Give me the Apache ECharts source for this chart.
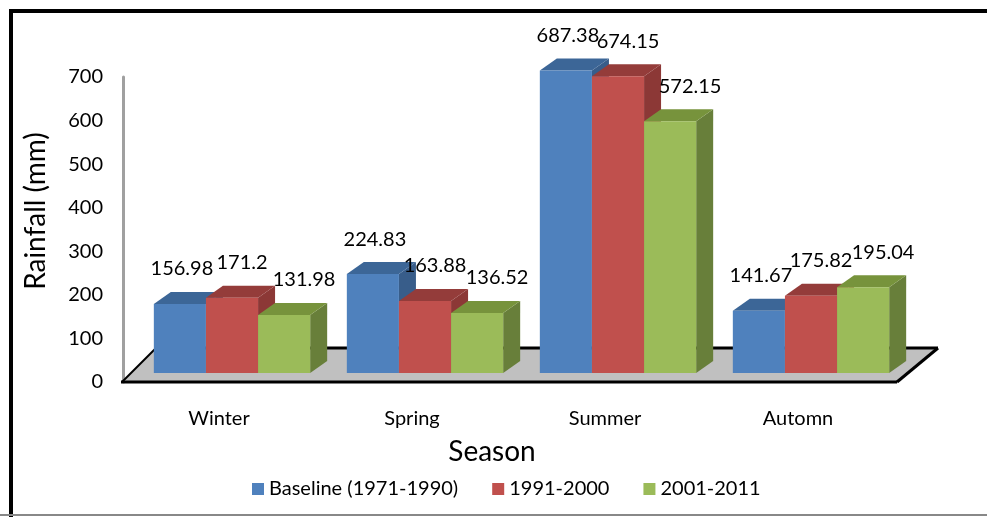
<!doctype html>
<html>
	<head>
		<meta charset="UTF-8">
		<title>Rainfall by season</title>
		<script src="https://cdn.jsdelivr.net/npm/echarts@6/dist/echarts.min.js"></script>
		<style>
			html, body { margin: 0; padding: 0; background: #fff; }
			#chart { width: 987px; height: 517px; }
		</style>
	</head>
	<body>
		<div id="chart"></div>
		<script type="text/javascript">
			// data
			var seasons = ['Winter', 'Spring', 'Summer', 'Automn'];
			var seriesNames = ['Baseline (1971-1990)', '1991-2000', '2001-2011'];
			var baseline = [156.98, 224.83, 687.38, 141.67];
			var p1991 = [171.2, 163.88, 674.15, 175.82];
			var p2001 = [131.98, 136.52, 572.15, 195.04];
			var yTicks = [0, 700, 100]; // min, max, step

			// front / top / side colours (Excel 2007 look)
			var faces = [
				['#4F81BD', '#3C6697', '#385D8A'],
				['#C0504D', '#943C3A', '#8C3836'],
				['#9BBB59', '#77933C', '#687F3A']
			];
			var DX = 17, DY = -12; // depth of a bar
			var labelShift = [2, 10, 20];

			function make3dBar(s) {
				return function(params, api) {
					var ci = api.value(0);
					var v = api.value(1);
					var base = api.coord([ci, 0]);
					var top = api.coord([ci, v]);
					var catW = api.size([1, 0])[0];
					var bw = catW * 0.27;
					var x0 = base[0] + (s - 1) * bw - bw / 2;
					var x1 = x0 + bw;
					var yt = top[1], yb = base[1];
					var c = faces[s];
					return {
						type: 'group',
						children: [{
							type: 'polygon',
							shape: { points: [[x1, yt], [x1 + DX, yt + DY], [x1 + DX, yb + DY], [x1, yb]] },
							style: { fill: c[2] }
						}, {
							type: 'polygon',
							shape: { points: [[x0, yt], [x1, yt], [x1 + DX, yt + DY], [x0 + DX, yt + DY]] },
							style: { fill: c[1] }
						}, {
							type: 'rect',
							shape: { x: x0, y: yt, width: bw, height: yb - yt },
							style: { fill: c[0] }
						}, {
							type: 'text',
							z2: 10,
							style: {
								x: x0 + bw / 2 + labelShift[s],
								y: yt + DY - 23,
								text: String(v),
								fill: '#000',
								font: '20px Lato',
								align: 'center',
								verticalAlign: 'middle'
							}
						}]
					};
				};
			}

			function toPairs(arr) {
				var out = [];
				for(var i = 0; i < arr.length; i++) {
					out.push([i, arr[i]]);
				}
				return out;
			}

			var allValues = [baseline, p1991, p2001];
			var series = [];
			for(var s = 0; s < 3; s++) {
				series.push({
					name: seriesNames[s],
					type: 'custom',
					xAxisIndex: 0,
					yAxisIndex: 0,
					z: 5,
					itemStyle: { color: faces[s][0] },
					renderItem: make3dBar(s),
					encode: { x: 0, y: 1 },
					data: toPairs(allValues[s])
				});
			}

			var option = {
				animation: false,
				textStyle: { fontFamily: 'Lato', color: '#000' },
				grid: [
					// bars
					{ left: 135.5, width: 772, top: 65, height: 308 },
					// axis labels sit a little lower than the bars (floor)
					{ left: 123, width: 10, top: 77, height: 305 }
				],
				xAxis: [{
					gridIndex: 0,
					type: 'category',
					data: seasons,
					axisLine: { show: false },
					axisTick: { show: false },
					axisLabel: {
						margin: 36,
						fontSize: 20,
						color: '#000',
						padding: [0, 26, 0, 0]
					}
				}, {
					gridIndex: 1,
					type: 'value',
					show: false
				}],
				yAxis: [{
					gridIndex: 0,
					type: 'value',
					min: yTicks[0],
					max: yTicks[1],
					interval: yTicks[2],
					show: false
				}, {
					gridIndex: 1,
					type: 'value',
					min: yTicks[0],
					max: yTicks[1],
					interval: yTicks[2],
					axisLine: { show: true, lineStyle: { color: '#A0A0A0', width: 3 } },
					axisTick: { show: false },
					splitLine: { show: false },
					axisLabel: { fontSize: 20, color: '#000', margin: 20 }
				}],
				legend: {
					left: 247,
					top: 474,
					itemWidth: 12,
					itemHeight: 12,
					itemGap: 34,
					icon: 'rect',
					textStyle: { fontSize: 20, color: '#000', fontFamily: 'Lato' },
					data: seriesNames
				},
				graphic: [
					// floor
					{
						type: 'polygon', z: 1,
						shape: { points: [[122, 382], [897, 382], [938, 348], [156, 348]] },
						style: { fill: '#C0C0C0' }
					},
					{ type: 'line', z: 1, shape: { x1: 156, y1: 348, x2: 938, y2: 348 }, style: { stroke: '#000', lineWidth: 3 } },
					{ type: 'line', z: 1, shape: { x1: 121, y1: 382, x2: 897, y2: 382 }, style: { stroke: '#000', lineWidth: 3 } },
					{ type: 'line', z: 1, shape: { x1: 897, y1: 382, x2: 938, y2: 348 }, style: { stroke: '#000', lineWidth: 3 } },
					{ type: 'line', z: 1, shape: { x1: 122, y1: 382, x2: 156, y2: 348 }, style: { stroke: '#000', lineWidth: 2 } },
					// axis titles
					{
						type: 'text', z: 10,
						x: 36, y: 211, rotation: Math.PI / 2,
						style: { text: 'Rainfall (mm)', font: '28px Lato', fill: '#000', align: 'center', verticalAlign: 'middle' }
					},
					{
						type: 'text', z: 10,
						x: 492, y: 452,
						style: { text: 'Season', font: '28px Lato', fill: '#000', align: 'center', verticalAlign: 'middle' }
					},
					// frame
					{ type: 'rect', z: 20, shape: { x: 9, y: 9, width: 4, height: 508 }, style: { fill: '#000' } },
					{ type: 'rect', z: 20, shape: { x: 9, y: 9, width: 978, height: 4 }, style: { fill: '#000' } },
					{ type: 'rect', z: 20, shape: { x: 0, y: 514, width: 987, height: 2 }, style: { fill: '#888' } }
				],
				series: series
			};

			var chart = echarts.init(document.getElementById('chart'));
			chart.setOption(option);
		</script>
	</body>
</html>
